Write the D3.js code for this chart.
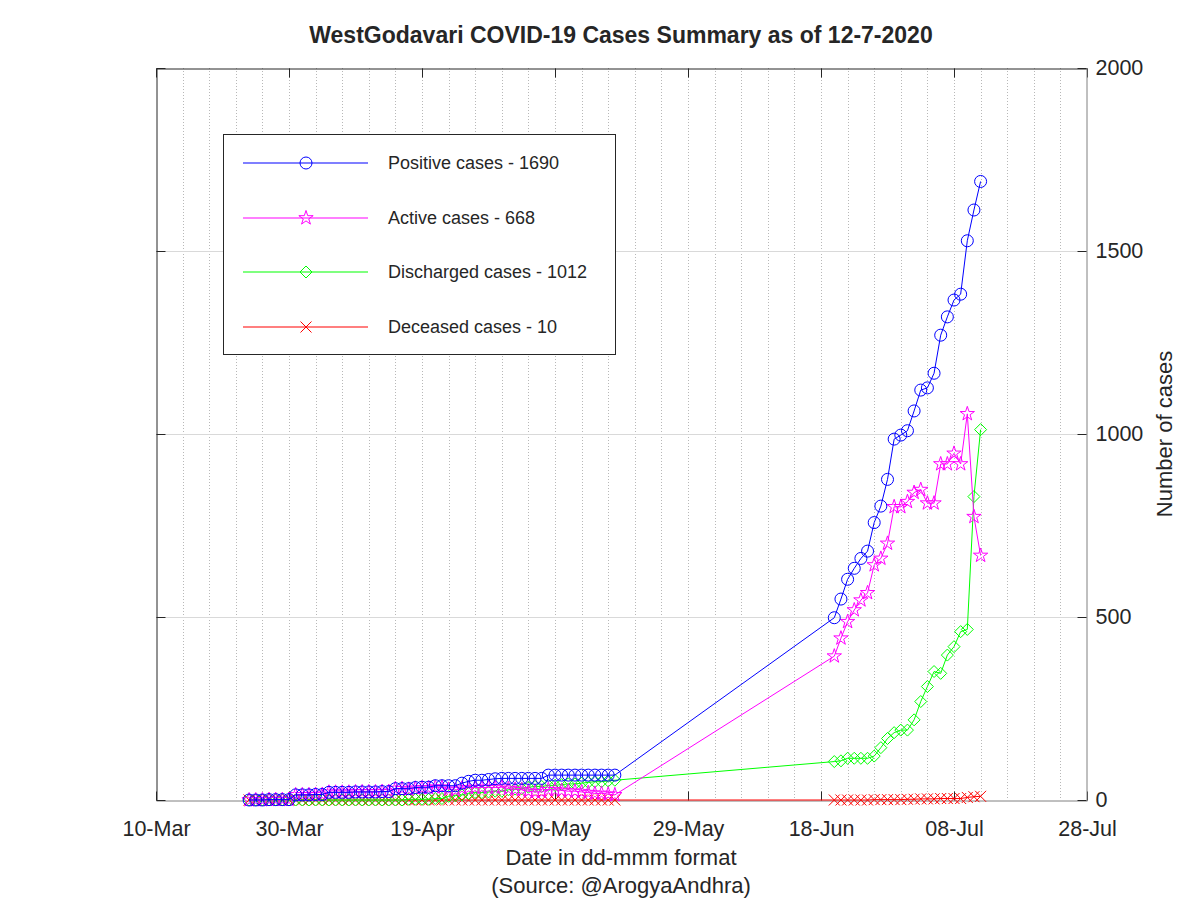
<!DOCTYPE html>
<html><head><meta charset="utf-8">
<script src="https://cdn.jsdelivr.net/npm/d3@7"></script>
<style>body{margin:0;background:#fff}svg{display:block}text{font-family:"Liberation Sans",Arial,sans-serif;fill:#262626}</style>
</head><body><svg id="c" width="1200" height="900"></svg>
<script>
// ---- data ----
const seg1Start = "2020-03-24", seg1End = "2020-05-18";
const seg2Start = "2020-06-20", seg2End = "2020-07-12";
const positive1 = [0,0,0,1,1,1,1,14,14,14,15,15,21,21,21,21,22,22,22,22,23,23,31,31,31,34,35,35,39,39,39,39,46,51,54,54,56,58,59,59,59,59,59,59,59,68,68,68,68,68,68,68,68,68,68,68];
const active1   = [0,0,0,1,1,1,1,14,14,14,15,15,21,21,21,21,22,22,22,22,23,23,31,31,29,32,33,33,35,35,29,27,32,33,34,34,34,34,35,31,29,28,24,22,22,28,28,26,24,24,22,20,18,18,16,14];
const discharged1 = [0,0,0,0,0,0,0,0,0,0,0,0,0,0,0,0,0,0,0,0,0,0,0,0,2,2,2,2,4,4,10,12,14,18,20,20,22,24,24,28,30,31,35,37,37,40,40,42,44,44,46,48,50,50,52,54];
const deceased1 = [0,0,0,0,0,0,0,0,0,0,0,0,0,0,0,0,0,0,0,0,0,0,0,0,0,0,0,0,0,0,0,0,0,0,0,0,0,0,0,0,0,0,0,0,0,0,0,0,0,0,0,0,0,0,0,0];
const positive2 = [498,549,603,633,660,680,758,803,876,986,997,1009,1063,1120,1126,1166,1270,1320,1366,1382,1528,1612,1690];
const active2   = [393,442,487,519,546,566,642,660,701,801,801,815,840,848,811,811,918,918,947,918,1055,774,668];
const discharged2 = [105,107,114,114,114,114,120,143,168,184,191,191,219,269,310,351,346,396,419,460,466,829,1012];
const deceased2 = [0,0,0,0,0,0,1,1,1,1,1,2,2,3,3,3,4,4,4,4,7,9,10];
const xTickLabels = ["10-Mar","30-Mar","19-Apr","09-May","29-May","18-Jun","08-Jul","28-Jul"];
const yTicks = [0,500,1000,1500,2000];
const seriesNames = ["Positive cases - 1690","Active cases - 668","Discharged cases - 1012","Deceased cases - 10"];
const seriesColors = ["#0000ff","#ff00ff","#00ff00","#ff0000"];
const title = "WestGodavari COVID-19 Cases Summary as of 12-7-2020";

// ---- build ----
const parse = d3.utcParse("%Y-%m-%d");
const days1 = d3.utcDay.range(parse(seg1Start), d3.utcDay.offset(parse(seg1End),1));
const days2 = d3.utcDay.range(parse(seg2Start), d3.utcDay.offset(parse(seg2End),1));
const dates = days1.concat(days2);
const series = [positive1.concat(positive2), active1.concat(active2), discharged1.concat(discharged2), deceased1.concat(deceased2)];
const markers = ["circle","star","diamond","cross"];

const L=156, R=1087, T=68, B=800;
const x = d3.scaleUtc().domain([Date.UTC(2020,2,10), Date.UTC(2020,6,28)]).range([L,R]);
const y = d3.scaleLinear().domain([0,2000]).range([B,T]);
const svg = d3.select("#c");
const FF = "Liberation Sans, Arial, sans-serif";

// grid
const minor = d3.utcDay.range(new Date(Date.UTC(2020,2,14)), new Date(Date.UTC(2020,6,28)), 4);
svg.append("g").selectAll("line").data(minor).join("line")
  .attr("x1",d=>Math.round(x(d))+0.5).attr("x2",d=>Math.round(x(d))+0.5).attr("y1",T).attr("y2",B)
  .attr("stroke","#b8b8b8").attr("stroke-dasharray","1,2");
svg.append("g").selectAll("line").data(yTicks.slice(1,-1)).join("line")
  .attr("x1",L).attr("x2",R).attr("y1",d=>Math.round(y(d))+0.5).attr("y2",d=>Math.round(y(d))+0.5)
  .attr("stroke","#d9d9d9");

// axes
const majorDates = d3.utcDay.range(new Date(Date.UTC(2020,2,10)), new Date(Date.UTC(2020,6,29)), 20);
const xAxis = d3.axisBottom(x).tickValues(majorDates).tickFormat((d,i)=>xTickLabels[i]).tickSizeInner(-9).tickSizeOuter(0).tickPadding(20);
const gx = svg.append("g").attr("transform",`translate(0,${B+0.5})`).call(xAxis);
gx.select(".domain").attr("stroke","#808080");
gx.selectAll(".tick line").attr("stroke","#262626");
gx.selectAll("text").attr("font-size",21.5).attr("fill","#262626").attr("font-family",FF);
const xTop = d3.axisTop(x).tickValues(majorDates).tickFormat("").tickSizeInner(-9).tickSizeOuter(0);
const gxt = svg.append("g").attr("transform",`translate(0,${T+0.5})`).call(xTop);
gxt.selectAll("line,path").attr("stroke","#262626");
const yAxis = d3.axisRight(y).tickValues(yTicks).tickFormat(d3.format("d")).tickSizeInner(-9).tickSizeOuter(0).tickPadding(9);
const gy = svg.append("g").attr("transform",`translate(${R-0.5},0)`).call(yAxis);
gy.select(".domain").attr("stroke","#808080");
gy.selectAll(".tick line").attr("stroke","#262626");
gy.selectAll("text").attr("font-size",21.5).attr("fill","#262626").attr("font-family",FF);
const yLeft = d3.axisLeft(y).tickValues(yTicks).tickFormat("").tickSizeInner(-9).tickSizeOuter(0);
const gyl = svg.append("g").attr("transform",`translate(${L+0.5},0)`).call(yLeft);
gyl.selectAll("line,path").attr("stroke","#262626");

// markers
function markerPath(type, s){
  if(type==="circle") return d3.symbol(d3.symbolCircle, Math.PI*s*s)();
  if(type==="star") return d3.symbol(d3.symbolStar, s*s*1.3)();
  if(type==="diamond") return `M0,${-s}L${s},0L0,${s}L${-s},0Z`;
  return `M${-s},${-s}L${s},${s}M${-s},${s}L${s},${-s}`;
}
const mSize = [6,7,6,5.5];
const line = d3.line().x(d=>x(d[0])).y(d=>y(d[1]));
const order = [3,2,1,0];
order.forEach(k=>{
  const pts = dates.map((d,i)=>[d, series[k][i]]);
  const g = svg.append("g");
  g.append("path").attr("d",line(pts)).attr("fill","none").attr("stroke",seriesColors[k]).attr("stroke-width",1);
  g.selectAll("path.m").data(pts).join("path").attr("class","m")
    .attr("transform",d=>`translate(${x(d[0])},${y(d[1])})`)
    .attr("d",markerPath(markers[k],mSize[k])).attr("fill","none").attr("stroke",seriesColors[k]).attr("stroke-width",1);
});

// legend
const lg = svg.append("g");
lg.append("rect").attr("x",223.5).attr("y",134.5).attr("width",392).attr("height",220).attr("fill","#fff").attr("stroke","#262626");
const rowsY = [163,218,272,327];
seriesNames.forEach((n,k)=>{
  lg.append("line").attr("x1",243).attr("x2",368).attr("y1",rowsY[k]).attr("y2",rowsY[k]).attr("stroke",seriesColors[k]).attr("stroke-width",1.1);
  lg.append("path").attr("transform",`translate(306,${rowsY[k]})`).attr("d",markerPath(markers[k],mSize[k])).attr("fill","none").attr("stroke",seriesColors[k]);
  lg.append("text").attr("x",388).attr("y",rowsY[k]).attr("dy","0.35em").attr("font-size",18).text(n);
});

// titles
svg.append("text").attr("x",621).attr("y",43).attr("text-anchor","middle").attr("font-size",23).attr("font-weight","bold").attr("fill","#000").text(title);
svg.append("text").attr("x",621).attr("y",865).attr("text-anchor","middle").attr("font-size",22).text("Date in dd-mmm format");
svg.append("text").attr("x",621).attr("y",893).attr("text-anchor","middle").attr("font-size",22).text("(Source: @ArogyaAndhra)");
svg.append("text").attr("transform","translate(1172,434) rotate(-90)").attr("text-anchor","middle").attr("font-size",22).text("Number of cases");
</script></body></html>
